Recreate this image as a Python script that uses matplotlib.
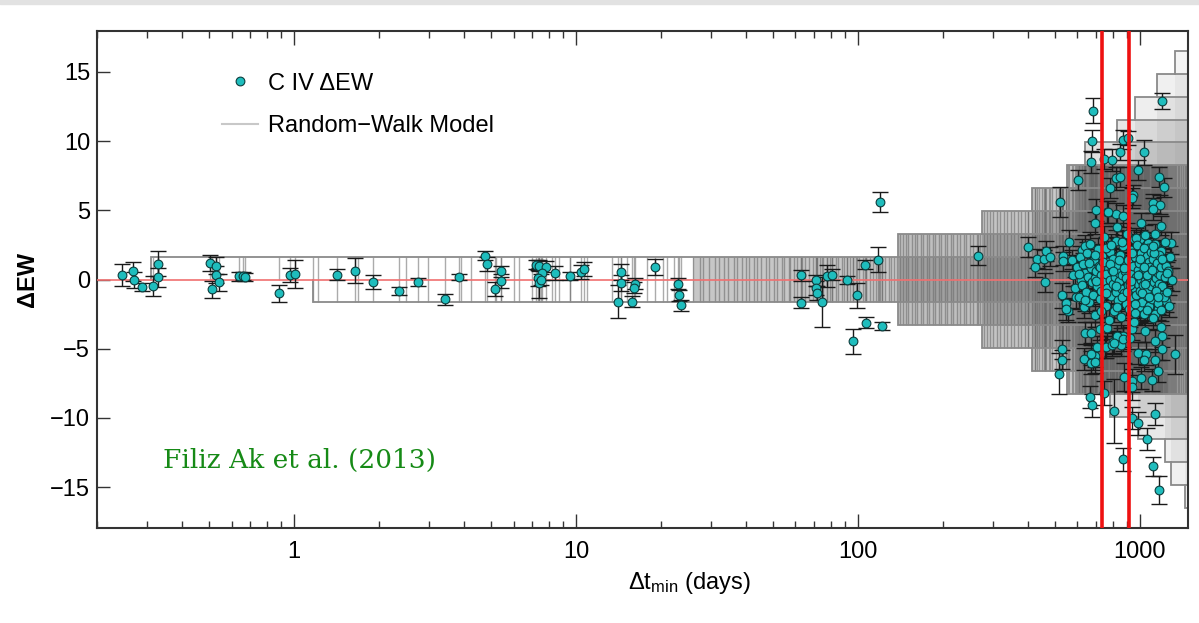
import numpy as np
import matplotlib
matplotlib.use("Agg")
import matplotlib.pyplot as plt
from matplotlib.lines import Line2D
from matplotlib.patches import Rectangle
from matplotlib.ticker import FixedLocator, NullFormatter, FixedFormatter

plt.rcParams['font.family'] = ['Liberation Sans', 'DejaVu Sans']
plt.rcParams['mathtext.fontset'] = 'custom'
plt.rcParams['mathtext.rm'] = 'Liberation Sans'
plt.rcParams['mathtext.it'] = 'Liberation Sans:italic'

# ---------------- data: individually read points ----------------
dt_sparse = [0.245, 0.268, 0.270, 0.288, 0.315, 0.330, 0.330, 0.505, 0.530, 0.530,
             0.540, 0.510, 0.640, 0.660, 0.670, 0.885, 0.970, 1.010, 1.420, 1.640,
             1.900, 2.360, 2.740, 3.430, 3.860, 4.750, 4.850, 5.420, 5.420, 5.170,
             7.20, 7.40, 7.80, 7.55, 7.30, 7.40, 7.50, 8.40, 9.50, 10.4,
             10.7, 14.4, 14.4, 14.1, 15.8, 16.2, 16.1, 19.0, 22.9, 23.1,
             23.6, 62.8, 62.8, 70.7, 71.2, 71.6, 74.8, 77.7, 80.8, 91.3,
             98.9, 96.2, 106, 118, 107, 122, 120, 267,
             680, 1195, 675, 670, 604, 522, 868, 910, 745, 795,
             849, 1035, 980, 1170, 1215, 824, 849, 780, 945, 940,
             1110, 1178, 1115, 700, 765, 824, 870, 690, 1010, 1190,
             1130, 1290, 400, 430, 455, 465, 480, 425, 535, 535,
             575, 560, 955, 1000, 1070, 1160, 1190, 1070, 460, 530,
             548, 555, 545, 595, 640, 670, 530, 530, 515, 635,
             680, 690, 670, 705, 750, 805, 855, 870, 880, 940,
             935, 745, 665, 675, 810, 940, 985, 1055, 1130, 870,
             1115, 1170, 985, 1050, 1035, 1130, 1195, 1330, 1160, 1100,
             1010, 1190, 1200, 1130, 1040, 940, 760, 720, 795, 1240,
             1160, 1130, 1000, 1040, 625, 640, 770, 830, 970, 1040,
             1230, 765, 830, 870, 810, 920, 690, 670]
dew_sparse = [0.30, 0.60, -0.05, -0.55, -0.48, 1.15, 0.15, 1.20, 1.00, 0.36,
              -0.20, -0.72, 0.22, 0.25, 0.20, -1.00, 0.30, 0.42, 0.36, 0.65,
              -0.20, -0.84, -0.19, -1.44, 0.17, 1.73, 1.13, 0.60, -0.12, -0.67,
              1.08, 1.00, 0.91, 0.48, 0.12, -0.24, 0.00, 0.48, 0.24, 0.53,
              0.77, 0.55, -0.24, -1.60, -1.60, -0.30, -0.60, 0.91, -0.31, -1.13,
              -1.85, 0.31, -1.68, -0.05, -0.60, -1.00, -1.60, 0.24, 0.36, -0.05,
              -1.13, -4.45, 1.08, 1.44, -3.12, -3.37, 5.60, 1.73,
              12.2, 12.9, 10.0, 8.5, 7.2, 5.6, 10.1, 10.2, 8.7, 8.65,
              9.2, 9.2, 7.9, 7.4, 6.65, 7.3, 7.4, 6.6, 6.1, 5.9,
              5.5, 5.4, 5.1, 5.0, 4.9, 4.7, 4.6, 4.1, 4.1, 3.9,
              3.3, 2.65, 2.35, 1.5, 1.45, 2.05, 1.65, 0.9, 1.73, 1.32,
              1.44, 2.7, 2.9, 2.9, 2.65, 2.15, 2.05, 2.3, -0.2, -1.15,
              -1.68, -2.3, -2.15, -1.25, -3.85, -3.9, -5.05, -5.8, -6.8, -5.77,
              -5.77, -5.5, -6.0, -4.9, -4.9, -4.5, -4.7, -4.1, -7.05, -7.3,
              -7.8, -8.2, -8.5, -9.1, -9.5, -10.0, -10.4, -11.5, -9.7, -13.0,
              -13.5, -15.2, -5.3, -5.35, -5.8, -5.8, -5.0, -5.4, -6.6, -7.25,
              -7.1, -3.4, -4.1, -4.45, -3.7, -3.6, -4.9, -3.6, -4.7, -1.56,
              -2.15, -2.5, -2.3, -2.35, 2.15, 2.4, 4.9, 3.8, 3.0, 3.25,
              2.7, -3.48, -4.09, -4.33, -4.57, -4.2, -5.95, -5.4]
err_sparse = [0.8, 0.7, 0.6, 0.3, 0.7, 0.9, 0.7, 0.6, 0.6, 0.6,
              0.6, 0.6, 0.3, 0.3, 0.3, 0.6, 0.5, 1.0, 0.4, 0.9,
              0.5, 0.3, 0.3, 0.4, 0.2, 0.3, 0.5, 0.4, 0.5, 0.5,
              0.3, 0.4, 0.4, 0.5, 0.6, 1.1, 0.4, 0.5, 0.3, 0.5,
              0.5, 0.6, 0.6, 1.2, 0.4, 0.4, 0.4, 0.6, 0.4, 0.4,
              0.4, 0.4, 0.4, 0.4, 0.5, 0.5, 1.8, 0.8, 0.4, 0.3,
              0.9, 0.9, 0.3, 0.9, 0.4, 0.3, 0.7, 0.7,
              0.9, 0.6, 0.8, 0.8, 0.7, 1.1, 0.7, 0.5, 0.7, 0.8,
              0.6, 0.9, 0.7, 0.7, 0.7, 0.8, 0.7, 0.7, 0.7, 0.7,
              0.7, 0.7, 0.8, 0.8, 0.8, 0.8, 0.8, 0.8, 0.7, 0.7,
              0.7, 0.8, 0.7, 0.7, 0.7, 0.7, 0.7, 0.7, 0.7, 0.7,
              0.7, 0.9, 0.7, 0.7, 0.7, 0.7, 0.7, 0.7, 0.7, 0.9,
              0.8, 0.8, 0.8, 0.8, 0.8, 0.8, 0.7, 0.7, 1.5, 0.8,
              0.8, 0.8, 0.8, 0.8, 0.8, 0.8, 0.8, 0.8, 1.0, 0.8,
              0.9, 0.9, 0.8, 0.8, 2.3, 0.8, 0.8, 0.8, 0.8, 0.8,
              0.7, 1.0, 0.8, 0.8, 0.8, 0.8, 0.8, 1.4, 0.8, 0.8,
              0.8, 0.8, 0.8, 0.8, 0.8, 0.8, 0.8, 0.8, 0.8, 0.8,
              0.8, 0.8, 0.8, 0.8, 0.8, 0.8, 0.8, 0.8, 0.7, 0.7,
              0.7, 0.8, 0.8, 0.8, 0.8, 0.8, 0.8, 0.8]

# ---------------- data: dense core (estimated) ----------------
dt_core = [580, 590, 600, 610, 615, 620, 625, 630, 635, 640,
           645, 650, 655, 660, 665, 670, 675, 680, 685, 690,
           695, 700, 705, 710, 715, 720, 725, 730, 735, 740,
           745, 750, 755, 760, 765, 770, 775, 780, 785, 790,
           795, 800, 805, 810, 815, 820, 825, 830, 835, 840,
           845, 850, 855, 860, 865, 870, 875, 880, 885, 890,
           895, 900, 905, 910, 915, 920, 925, 930, 935, 940,
           945, 950, 955, 960, 965, 970, 975, 980, 985, 990,
           995, 1000, 1005, 1010, 1015, 1020, 1025, 1030, 1035, 1040,
           1045, 1050, 1055, 1060, 1065, 1070, 1075, 1080, 1085, 1090,
           1095, 1100, 1105, 1110, 1115, 1120, 1125, 1130, 1135, 1140,
           1145, 1150, 1155, 1160, 1165, 1170, 1175, 1180, 1185, 1190,
           1200, 1210, 1220, 1230, 1240, 1250, 1260, 1270, 1280, 1300,
           700, 720, 740, 760, 780, 800, 820, 840, 860, 880,
           900, 920, 940, 960, 980, 1000, 1020, 1040, 1060, 1080,
           1100, 1120, 1140, 1160, 760, 860, 960, 1060, 660, 640,
           610, 1200, 1250, 730, 830, 930, 1030, 1110, 690, 790]
dew_core = [0.3, -0.6, 0.9, -1.3, 1.6, 0.0, -0.4, 1.1, -2.0, 0.5,
            -0.9, 1.9, 0.2, -1.6, 2.6, 0.8, -0.2, -1.1, 1.4, 0.1,
            -2.6, 0.6, -0.5, 2.2, 1.0, -1.4, 0.3, -0.8, 1.7, -0.1,
            3.1, 0.9, -1.9, 0.4, -0.6, 1.3, -2.9, 0.0, 2.0, -1.2,
            0.7, -0.3, 1.5, -2.3, 0.2, 2.8, -0.9, 1.0, -1.5, 0.5,
            -0.1, 1.8, -2.7, 0.3, -0.7, 2.4, 1.2, -1.0, 0.6, -1.8,
            0.1, 3.3, -0.4, 1.4, -2.1, 0.8, -0.2, 2.1, -1.3, 0.4,
            1.0, -0.6, -3.1, 1.6, 0.2, -1.1, 2.5, -0.3, 0.7, -2.0,
            1.2, -0.8, 0.0, 1.9, -1.6, 0.5, -0.4, 2.3, -2.5, 1.1,
            -0.1, 0.6, -1.2, 1.7, -0.7, 0.2, -1.9, 1.3, 0.9, -0.5,
            2.0, -1.4, 0.4, -2.8, 1.5, -0.2, 0.8, -1.0, 2.6, 0.1,
            -0.6, 1.2, -1.7, 0.5, -0.3, 1.8, -1.1, 0.3, -2.2, 0.9,
            -0.5, 1.4, -1.3, 0.2, 1.0, -0.9, 0.6, -1.9, 1.6, 0.0,
            -0.1, 0.9, 1.3, -1.0, 1.1, 0.6, -0.5, 1.4, -1.3, 0.8,
            -0.9, -0.4, 1.9, -1.8, 0.3, 1.5, -1.0, -0.3, 0.3, -1.3,
            0.7, 1.9, -0.8, -1.3, 2.3, 2.7, -2.4, -2.2, 1.2, -1.5,
            0.4, 1.5, 0.5, -2.3, -2.0, -0.1, 0.9, 2.4, 1.8, 2.5]
err_core = 0.8

# ---------------- random-walk model (step envelope) ----------------
model_level = [1.65, 3.3, 4.95, 6.6, 8.25, 9.9, 11.55, 13.2, 14.85, 16.5]
model_start_up = [0.31, 139, 275, 413, 550, 640, 830, 960, 1147, 1330]
model_start_dn = [1.17, 139, 275, 413, 550, 780, 980, 1230, 1290, 1450]
model_fill_alpha = [0.46, 0.46, 0.42, 0.38, 0.32, 0.22, 0.16, 0.12, 0.10, 0.08]
model_line_cap = 8.25
model_lines = [1.17, 1.22, 1.69, 2.5, 2.98, 3.9, 4.25, 5.2, 6.0, 6.3,
               7.0, 8.2, 8.7, 9.5, 10.9, 13.4, 15.2, 17.8, 20.4, 21.0,
               22.2, 26.0, 27.5, 28.3, 29.5, 31.0, 32.2, 33.5, 34.6, 36.3,
               37.2, 38.9, 40.1, 41.0, 42.8, 44.0, 45.1, 47.3, 48.5, 50.2,
               51.4, 53.6, 54.5, 56.7, 57.5, 59.4, 61.0, 63.3, 64.9, 67.2,
               69.0, 71.4, 73.2, 75.1, 77.5, 79.3, 81.0, 83.6, 85.2, 87.7,
               89.1, 91.6, 93.5, 96.3, 98.4, 101, 104, 106.5, 110, 113,
               115.5, 119, 122, 125, 128.5, 131, 134, 137, 141, 144,
               148, 151, 155, 159, 162, 167, 170, 175, 178, 184,
               188, 193, 197, 203, 207, 214, 218, 225, 230, 237,
               242, 250, 256, 264, 270, 279, 286, 295, 302, 312,
               320, 330, 338, 349, 358, 369, 379, 391, 401, 413,
               424, 437, 448, 462, 474, 489, 502, 517, 531, 546,
               1305, 1320, 1345, 1360, 1380, 1400, 1420, 1440, 1460, 1475]
vline_dt = [735, 912]

XMIN, XMAX = 0.2, 1480
YMIN, YMAX = -17.95, 17.95

fig = plt.figure(figsize=(11.99, 6.23), dpi=100)
fig.patches.append(Rectangle((0, 1 - 4 / 623), 1, 4 / 623, transform=fig.transFigure,
                             color='#e2e2e2', zorder=0))
ax = fig.add_axes([97 / 1199, 95 / 623, 1091 / 1199, 497 / 623])

gray = '#747474'
# envelope fills (each level from where the walk first reaches it)
for k, L in enumerate(model_level):
    x0u = model_start_up[k] if k > 0 else 26.0
    x0d = model_start_dn[k] if k > 0 else 26.0
    a = model_fill_alpha[k] if k > 0 else 0.40
    ax.fill_between([x0u, XMAX], 0, L, color=gray, alpha=a, lw=0, zorder=1)
    ax.fill_between([x0d, XMAX], -L, 0, color=gray, alpha=a, lw=0, zorder=1)


def env(x, starts):
    idx = np.searchsorted(np.array(starts), x, side='right') - 1
    return np.where(idx >= 0, np.array(model_level)[np.clip(idx, 0, None)], 0.0)


all_dt = np.concatenate([np.array(model_lines, float), np.array(dt_sparse, float),
                         np.array(dt_core, float)])
up = np.minimum(env(all_dt, model_start_up), model_line_cap)
dn = np.minimum(env(all_dt, model_start_dn), model_line_cap)
ax.vlines(all_dt, -dn, up, color='#666666', lw=1.0, alpha=0.55, zorder=2)

# envelope outlines
for k, L in enumerate(model_level):
    prev = model_level[k - 1] if k > 0 else 0.0
    for s, sgn in ((model_start_up[k], 1), (model_start_dn[k], -1)):
        ax.plot([s, s, XMAX], [sgn * prev, sgn * L, sgn * L], color='#8a8a8a',
                lw=1.3, zorder=2.5, solid_joinstyle='miter')

# zero line
ax.axhline(0, color='#f07070', lw=1.2, zorder=3)

# data
cyan = '#1fbdbd'
ax.errorbar(dt_sparse, dew_sparse, yerr=err_sparse, fmt='none', ecolor='#1a1a1a',
            elinewidth=1.0, capsize=6, capthick=1.0, zorder=4)
ax.errorbar(dt_core, dew_core, yerr=err_core, fmt='none', ecolor='#1a1a1a',
            elinewidth=1.0, capsize=6, capthick=1.0, zorder=4)
ax.plot(dt_sparse, dew_sparse, 'o', ms=6.3, mfc=cyan, mec='#0c3c3c', mew=0.8, zorder=5)
ax.plot(dt_core, dew_core, 'o', ms=6.3, mfc=cyan, mec='#0c3c3c', mew=0.8, zorder=5)

for v in vline_dt:
    ax.axvline(v, color='#ee1111', lw=2.6, zorder=6)

ax.set_xscale('log')
ax.set_xlim(XMIN, XMAX)
ax.set_ylim(YMIN, YMAX)

major_x = [1, 10, 100, 1000]
minor_x = [m * d for d in (0.1, 1, 10, 100) for m in range(2, 10) if XMIN <= m * d <= XMAX]
ax.xaxis.set_major_locator(FixedLocator(major_x))
ax.xaxis.set_major_formatter(FixedFormatter(['1', '10', '100', '1000']))
ax.xaxis.set_minor_locator(FixedLocator(minor_x))
ax.xaxis.set_minor_formatter(NullFormatter())
ax.set_yticks([-15, -10, -5, 0, 5, 10, 15])
ax.set_yticklabels(['\u221215', '\u221210', '\u22125', '0', '5', '10', '15'])

ax.tick_params(axis='x', which='major', direction='in', length=10, width=1.0,
               top=True, labelsize=17, pad=9, color='#333333')
ax.tick_params(axis='x', which='minor', direction='in', length=5, width=1.0,
               top=True, color='#333333')
ax.tick_params(axis='y', which='major', direction='in', length=9, width=1.0,
               labelsize=17, pad=5, color='#333333')
for sp in ax.spines.values():
    sp.set_color('#333333')
    sp.set_linewidth(1.5)

ax.set_ylabel('\u0394EW', fontsize=17, fontweight='bold', labelpad=8)
ax.set_xlabel('\u0394t$_{\\mathrm{min}}$ (days)', fontsize=17)
ax.xaxis.set_label_coords(0.543, -0.085)

handles = [Line2D([], [], ls='none', marker='o', ms=6.3, mfc=cyan, mec='#0c3c3c', mew=0.8),
           Line2D([], [], color='#c8c8c8', lw=1.5)]
ax.legend(handles, ['C IV \u0394EW', 'Random\u2212Walk Model'], loc='upper left',
          bbox_to_anchor=(0.106, 0.935), borderaxespad=0, frameon=False, fontsize=17,
          handlelength=1.5, handletextpad=0.45, labelspacing=0.85)

ax.text(0.0605, 0.1207, 'Filiz Ak et al. (2013)', transform=ax.transAxes,
        family='DejaVu Serif', fontsize=19, color='#168a16', va='baseline', ha='left',
        zorder=7)

fig.savefig('out.png', dpi=100)
